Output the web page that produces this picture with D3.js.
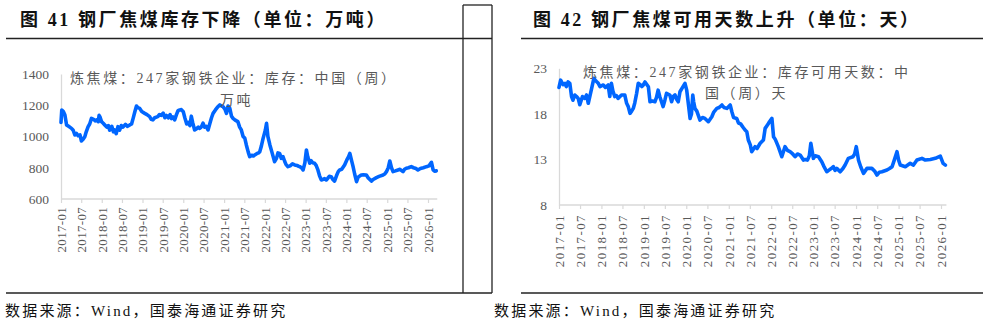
<!DOCTYPE html>
<html><head><meta charset="utf-8">
<script src="https://cdn.jsdelivr.net/npm/d3@7"></script>
<style>
html,body{margin:0;padding:0;background:#fff;}
svg{display:block;}
.lat{font-family:"Liberation Serif","DejaVu Serif",serif;}
.cjk{font-family:"Liberation Serif","Noto Sans CJK SC",sans-serif;}
</style></head>
<body>
<svg id="c" width="983" height="325"></svg>
<script>
// ---------- DATA ----------
const xTickLabels = ["2017-01","2017-07","2018-01","2018-07","2019-01","2019-07","2020-01","2020-07","2021-01","2021-07","2022-01","2022-07","2023-01","2023-07","2024-01","2024-07","2025-01","2025-07","2026-01"];

const leftTitle = "图 41 钢厂焦煤库存下降（单位：万吨）";
const rightTitle = "图 42 钢厂焦煤可用天数上升（单位：天）";
const sourceText = "数据来源：Wind，国泰海通证券研究";
const leftNoteLines = ["炼焦煤：247家钢铁企业：库存：中国（周）", "万吨"];
const rightNoteLines = ["炼焦煤：247家钢铁企业：库存可用天数：中", "国（周）天"];

const leftYTicks = [600, 800, 1000, 1200, 1400];
const rightYTicks = [8, 13, 18, 23];

const leftDates = ["2017-01-01","2017-01-08","2017-01-22","2017-02-05","2017-02-20","2017-03-10","2017-04-05","2017-04-20","2017-05-05","2017-05-20","2017-06-03","2017-06-20","2017-07-03","2017-07-15","2017-08-02","2017-08-15","2017-09-01","2017-09-15","2017-10-01","2017-10-20","2017-11-05","2017-11-15","2017-12-01","2017-12-08","2017-12-15","2017-12-30","2018-01-14","2018-01-28","2018-02-15","2018-03-01","2018-03-13","2018-04-01","2018-04-15","2018-04-27","2018-05-10","2018-05-26","2018-06-10","2018-06-25","2018-07-10","2018-08-01","2018-08-20","2018-09-09","2018-09-25","2018-10-09","2018-10-25","2018-11-08","2018-11-20","2018-12-07","2018-12-25","2019-01-21","2019-02-10","2019-03-06","2019-03-20","2019-04-04","2019-04-20","2019-05-18","2019-06-01","2019-06-18","2019-07-05","2019-07-20","2019-08-03","2019-08-20","2019-09-05","2019-09-17","2019-10-01","2019-10-16","2019-11-01","2019-11-15","2019-12-01","2019-12-15","2020-01-01","2020-01-15","2020-02-01","2020-02-15","2020-03-01","2020-03-13","2020-03-25","2020-04-12","2020-04-30","2020-05-15","2020-05-27","2020-06-10","2020-06-26","2020-07-10","2020-07-25","2020-08-10","2020-08-25","2020-09-10","2020-09-24","2020-10-15","2020-11-05","2020-11-24","2020-12-10","2020-12-22","2021-01-08","2021-01-22","2021-02-05","2021-02-21","2021-03-08","2021-03-22","2021-04-10","2021-05-04","2021-05-20","2021-06-04","2021-06-20","2021-07-05","2021-07-19","2021-08-05","2021-08-18","2021-09-05","2021-09-20","2021-10-02","2021-10-20","2021-11-05","2021-11-16","2021-12-01","2021-12-16","2022-01-05","2022-01-16","2022-01-28","2022-02-15","2022-03-05","2022-03-29","2022-04-15","2022-04-28","2022-05-13","2022-05-28","2022-06-12","2022-06-28","2022-07-10","2022-07-27","2022-08-15","2022-09-05","2022-09-25","2022-10-15","2022-10-28","2022-11-09","2022-11-25","2022-12-09","2022-12-25","2023-01-08","2023-01-20","2023-02-07","2023-02-20","2023-03-05","2023-03-22","2023-04-05","2023-04-21","2023-05-05","2023-05-21","2023-06-05","2023-06-20","2023-07-05","2023-07-19","2023-08-01","2023-08-18","2023-09-01","2023-09-17","2023-10-05","2023-10-20","2023-11-02","2023-11-20","2023-12-16","2024-01-05","2024-01-20","2024-02-01","2024-02-15","2024-03-01","2024-03-15","2024-04-01","2024-04-15","2024-05-13","2024-06-01","2024-06-28","2024-07-15","2024-08-12","2024-08-28","2024-09-26","2024-10-20","2024-11-25","2024-12-10","2024-12-25","2025-01-10","2025-01-24","2025-02-08","2025-02-22","2025-03-15","2025-04-07","2025-04-25","2025-05-22","2025-06-05","2025-06-21","2025-07-10","2025-08-04","2025-08-25","2025-09-15","2025-10-03","2025-10-25","2025-11-20","2025-12-18","2026-01-10","2026-02-01","2026-02-16","2026-03-01","2026-03-16"];
const leftValues = [1090,1170,1160,1138,1074,1065,1052,1040,1010,1020,1005,1010,971,980,999,1030,1063,1080,1116,1110,1100,1106,1095,1135,1127,1095,1085,1074,1060,1070,1040,1065,1030,1042,1018,1063,1040,1070,1060,1078,1065,1074,1080,1116,1160,1195,1185,1180,1160,1148,1140,1127,1110,1106,1120,1127,1140,1135,1150,1120,1135,1120,1140,1115,1125,1106,1140,1165,1170,1172,1159,1120,1080,1090,1070,1130,1090,1042,1050,1060,1052,1060,1085,1060,1065,1042,1080,1120,1148,1170,1190,1202,1195,1191,1175,1148,1195,1180,1130,1116,1105,1095,1060,1042,1000,990,946,900,871,880,875,882,890,895,903,940,988,1040,1084,1000,946,900,839,860,895,892,860,871,840,820,807,812,825,818,815,810,807,800,786,830,914,870,829,845,832,829,815,786,750,722,725,730,722,733,745,743,725,715,750,775,786,790,818,850,870,892,850,807,760,711,740,754,755,754,735,715,725,737,745,754,760,775,800,843,800,775,780,786,790,775,790,797,800,807,800,795,786,795,800,807,812,835,786,778,780];

const rightDates = ["2017-01-01","2017-01-15","2017-02-05","2017-02-21","2017-03-05","2017-03-20","2017-04-04","2017-04-19","2017-05-01","2017-05-17","2017-06-01","2017-06-15","2017-06-29","2017-07-22","2017-08-10","2017-08-26","2017-09-10","2017-09-25","2017-10-09","2017-10-28","2017-11-15","2017-12-05","2017-12-20","2018-01-17","2018-02-05","2018-02-28","2018-03-14","2018-03-28","2018-04-10","2018-04-26","2018-05-10","2018-05-24","2018-06-23","2018-07-21","2018-08-06","2018-08-20","2018-09-04","2018-09-18","2018-10-02","2018-10-15","2018-10-31","2018-11-14","2018-12-01","2018-12-15","2018-12-27","2019-01-11","2019-02-09","2019-02-23","2019-03-15","2019-04-06","2019-04-20","2019-05-04","2019-05-18","2019-06-16","2019-07-01","2019-07-15","2019-08-13","2019-08-28","2019-09-10","2019-09-26","2019-10-10","2019-10-24","2019-11-08","2019-11-25","2019-12-21","2020-01-05","2020-01-20","2020-02-03","2020-02-15","2020-02-26","2020-03-05","2020-03-16","2020-04-01","2020-04-28","2020-05-20","2020-06-10","2020-07-09","2020-08-08","2020-08-25","2020-09-20","2020-10-10","2020-11-03","2020-11-20","2020-12-15","2021-01-13","2021-01-28","2021-02-11","2021-03-10","2021-03-25","2021-04-13","2021-05-05","2021-05-21","2021-06-05","2021-06-18","2021-07-05","2021-07-17","2021-08-15","2021-09-01","2021-09-28","2021-10-26","2021-11-10","2021-12-01","2021-12-17","2022-01-07","2022-01-21","2022-02-05","2022-03-03","2022-04-02","2022-04-30","2022-05-20","2022-06-12","2022-07-05","2022-07-25","2022-08-15","2022-09-07","2022-10-05","2022-10-20","2022-11-09","2022-11-25","2022-12-08","2022-12-30","2023-01-15","2023-02-12","2023-03-12","2023-03-28","2023-04-24","2023-05-10","2023-06-01","2023-06-20","2023-07-05","2023-07-19","2023-08-17","2023-09-10","2023-09-29","2023-10-27","2023-12-05","2023-12-20","2024-01-03","2024-01-22","2024-02-10","2024-03-05","2024-04-04","2024-05-16","2024-06-10","2024-06-29","2024-07-20","2024-08-11","2024-09-23","2024-10-15","2024-11-06","2024-11-25","2024-12-18","2025-01-02","2025-01-16","2025-02-28","2025-04-11","2025-05-09","2025-06-08","2025-07-21","2025-08-19","2025-10-01","2025-11-13","2025-12-26","2026-01-19","2026-02-08"];
const rightValues = [20.9,21.7,21.2,21.35,21.0,21.5,21.35,19.9,19.5,20.07,19.9,19.7,19.0,19.9,19.7,20.07,19.16,20.0,20.8,21.9,21.6,21.35,21.0,21.17,20.9,21.17,19.9,21.35,20.5,19.9,20.0,19.7,20.07,20.07,19.16,18.8,18.06,18.3,18.6,19.2,20.25,21.35,21.2,21.0,21.17,21.5,20.98,19.33,19.4,19.33,19.8,20.6,19.9,18.8,19.5,20.25,20.07,19.33,19.9,20.07,19.6,19.33,20.43,20.8,21.35,20.6,19.0,17.5,18.0,20.07,19.3,18.6,18.3,17.32,17.6,17.5,17.14,17.69,18.2,18.6,18.7,18.97,18.7,18.6,18.97,18.2,17.6,17.5,17.0,16.9,16.5,16.23,16.04,15.13,14.6,13.85,14.4,14.2,14.77,15.13,16.41,16.8,17.14,17.5,15.49,15.2,14.4,13.3,14.4,14.0,13.85,13.6,13.3,13.6,13.48,12.93,13.0,12.93,13.4,14.77,13.12,13.4,13.3,12.75,12.3,11.65,11.8,12.0,12.2,11.8,12.02,11.65,12.0,12.38,13.12,13.3,13.6,14.4,12.93,12.2,11.47,12.02,12.02,11.7,11.29,11.6,11.65,11.84,12.0,12.2,12.93,13.85,12.9,12.38,12.2,12.57,12.38,12.93,13.12,12.93,13.0,13.12,13.37,12.57,12.38];

// ---------- DRAW ----------
const svg = d3.select("#c");
svg.append("rect").attr("width",983).attr("height",325).attr("fill","#fff");
const parse = d3.timeParse("%Y-%m-%d");
const parseM = d3.timeParse("%Y-%m");
const tickDates = xTickLabels.map(parseM);
const GREY = "#595959";
const AXIS = "#d9d9d9";
const BLUE = "#0066ff";

// frame lines
const frame = svg.append("g").attr("stroke","#222").attr("stroke-width",1.3).attr("fill","none");
[[6,38.5,492,38.5],[6,293,492,293],[463,5,463,293],[492,5,492,293],[463,5,492,5],
 [521,38.5,983,38.5],[521,293,983,293]].forEach(l=>{
  frame.append("line").attr("x1",l[0]).attr("y1",l[1]).attr("x2",l[2]).attr("y2",l[3]);
});

function panel(cfg){
  const data = cfg.dates.map((d,i)=>({date:parse(d), v:cfg.values[i]}));
  const x = d3.scaleTime().domain([tickDates[0], tickDates[tickDates.length-1]]).range(cfg.xRange);
  const y = d3.scaleLinear().domain(cfg.yDomain).range(cfg.yRange);
  const g = svg.append("g");

  // title
  g.append("text").attr("class","cjk").attr("x",cfg.titleX).attr("y",26)
    .style("font-size","18px").style("font-weight","700")
    .style("letter-spacing",cfg.titleLS+"px").attr("fill","#111").text(cfg.title);
  // source
  g.append("text").attr("class","cjk").attr("x",cfg.srcX).attr("y",316)
    .style("font-size","15px")
    .style("letter-spacing","2.2px").attr("fill","#111").text(sourceText);

  // y axis
  const ya = g.append("g").attr("transform",`translate(${cfg.xRange[0]},0)`)
    .call(d3.axisLeft(y).tickValues(cfg.yTicks).tickSize(0).tickPadding(12).tickFormat(d3.format("d")));
  ya.attr("font-family",null);
  ya.select(".domain").attr("stroke",AXIS).attr("stroke-width",1.3);
  ya.selectAll("text").attr("class","lat").style("font-size","13.5px").attr("fill",GREY);

  // x axis
  const y0 = cfg.yRange[0];
  const xa = g.append("g").attr("transform",`translate(0,${y0})`)
    .call(d3.axisBottom(x).tickValues(tickDates).tickSize(4).tickFormat((d,i)=>xTickLabels[i]));
  xa.attr("font-family",null);
  xa.select(".domain").remove();
  xa.append("line").attr("x1",cfg.xRange[0]).attr("x2",x(data[data.length-1].date)+1)
    .attr("stroke",AXIS).attr("stroke-width",1.3);
  xa.selectAll(".tick line").attr("stroke",AXIS).attr("stroke-width",1.2);
  xa.selectAll("text").attr("class","lat").style("font-size","13px").attr("fill",GREY)
    .style("letter-spacing",cfg.xLS+"px")
    .attr("transform","rotate(-90)").attr("text-anchor","end")
    .attr("x",-cfg.xLabelGap).attr("y",0).attr("dy","0.33em");

  // line
  g.append("path").datum(data)
    .attr("fill","none").attr("stroke",BLUE).attr("stroke-width",3.6)
    .attr("stroke-linejoin","round").attr("stroke-linecap","round")
    .attr("d", d3.line().x(d=>x(d.date)).y(d=>y(d.v)));

  // note
  cfg.notes.forEach((t,i)=>{
    g.append("text").attr("class","cjk").attr("x",cfg.noteX[i]).attr("y",cfg.noteY[i])
      .style("font-size","14px").style("letter-spacing","2.6px")
      .attr("fill",GREY).text(t);
  });
}

panel({title:leftTitle, titleX:20, titleLS:2.6, srcX:5,
  dates:leftDates, values:leftValues, yDomain:[600,1400], yRange:[199,74], yTicks:leftYTicks,
  xRange:[61,428], xLS:0.3, xLabelGap:8,
  notes:leftNoteLines, noteX:[70,220], noteY:[83,105]});
panel({title:rightTitle, titleX:533, titleLS:2.6, srcX:494,
  dates:rightDates, values:rightValues, yDomain:[8,23], yRange:[205,68.3], yTicks:rightYTicks,
  xRange:[559,941], xLS:1.4, xLabelGap:9,
  notes:rightNoteLines, noteX:[583,705], noteY:[77,98]});
</script>
</body></html>
